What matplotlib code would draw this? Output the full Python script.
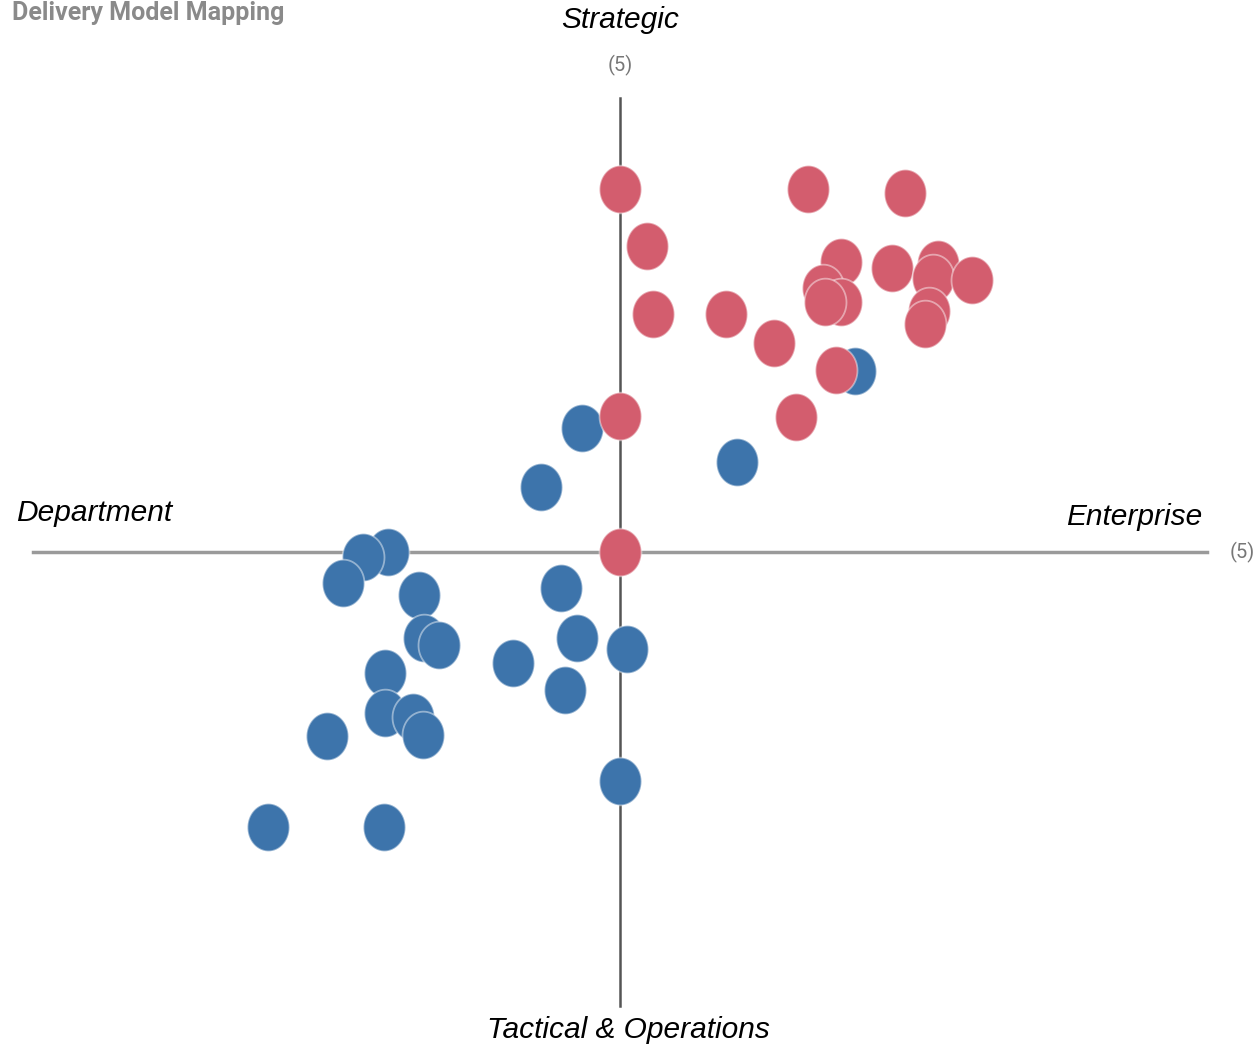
import numpy as np
import matplotlib
matplotlib.use("Agg")
import matplotlib.pyplot as plt
from matplotlib.path import Path

# Enterprise (x) vs Strategic (y), both on a -5..5 scale
red_x = [0.0, 1.6, 2.43, 0.23, 1.88, 2.32, 2.71, 2.67, 3.0, 1.73, 1.88, 1.75,
         0.28, 0.9, 2.63, 2.6, 1.31, 1.84, 0.0, 1.5, 0.0]
red_y = [4.0, 4.0, 3.95, 3.37, 3.19, 3.13, 3.17, 3.02, 3.0, 2.91, 2.75, 2.75,
         2.62, 2.62, 2.65, 2.51, 2.3, 2.0, 1.5, 1.49, 0.0]

blue_x = [2.0, -0.32, 1.0, -0.67, -1.98, -2.19, -2.36, -1.71, -0.5, -1.67, -1.54,
          -0.37, 0.06, -0.91, -2.0, -0.47, -2.0, -1.76, -1.68, -2.5, 0.0, -3.0, -2.01]
blue_y = [1.99, 1.37, 0.99, 0.72, 0.0, -0.06, -0.34, -0.47, -0.4, -0.95, -1.02,
          -0.95, -1.07, -1.22, -1.33, -1.52, -1.77, -1.82, -2.02, -2.03, -2.52, -3.03, -3.03]

red = "#D35D6E"
blue = "#3D74AB"

fig = plt.figure(figsize=(12.6, 10.47), dpi=100)
ax = fig.add_axes([0, 0, 1, 1])
ax.set_xlim(-620 / 117.4, 640 / 117.4)
ax.set_ylim(-495 / 90.8, 552 / 90.8)
ax.axis("off")

# quadrant axes
ax.plot([-5, 5], [0, 0], color="#9a9a9a", lw=2.5, zorder=1)
ax.plot([0, 0], [-5, 5], color="#555555", lw=1.8, zorder=1)

# slightly tall ellipse marker
t = np.linspace(0, 2 * np.pi, 60)
ell = Path(np.column_stack([0.88 * np.cos(t), np.sin(t)]), closed=True)

ax.scatter(blue_x, blue_y, s=1180, marker=ell, color=blue,
           edgecolors=(1, 1, 1, 0.45), linewidths=1.3, zorder=3)
ax.scatter(red_x, red_y, s=1180, marker=ell, color=red,
           edgecolors=(1, 1, 1, 0.45), linewidths=1.3, zorder=4)

lab = dict(fontsize=21.5, style="italic", family="Liberation Sans", color="black")
ax.text(0, 5.86, "Strategic", ha="center", va="center", **lab)
ax.text(0.07, -5.26, "Tactical & Operations", ha="center", va="center", **lab)
ax.text(-5.14, 0.43, "Department", ha="left", va="center", **lab)
ax.text(4.96, 0.385, "Enterprise", ha="right", va="center", **lab)

small = dict(fontsize=14.5, color="#777777", family="Roboto")
ax.text(0, 5.36, "(5)", ha="center", va="center", **small)
ax.text(5.3, 0.0, "(5)", ha="center", va="center", **small)

fig.text(12 / 1260, 1 - 1 / 1047, "Delivery Model Mapping", ha="left", va="top",
         fontsize=18, fontweight="bold", color="#8a8a8a", family="Roboto")

fig.savefig("out.png", dpi=100)
